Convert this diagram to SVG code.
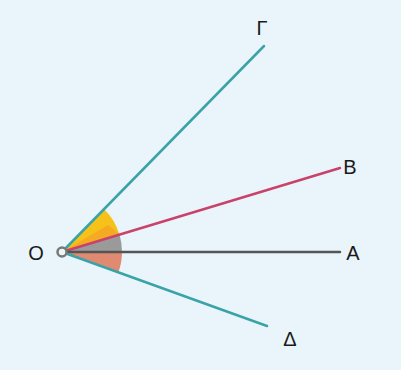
<svg xmlns="http://www.w3.org/2000/svg" width="401" height="370" viewBox="0 0 401 370">
<style>
.lbl{font-family:"Liberation Sans",Arial,sans-serif;font-size:20px;fill:#1a1a1a;text-anchor:middle}
.ray{stroke-width:2.5;stroke-linecap:round;fill:none}
</style>
<rect width="401" height="370" fill="#eaf5fb"/>
<g id="sectors">
<path d="M62,252 L119.5,234.6 A60,60 0 0 0 104,209 Z" fill="#f6c21a"/>
<path d="M62,252 L119.5,234.6 A60,60 0 0 0 108,225 Z" fill="#f39a2a" opacity="0.6"/>
<path d="M62,252 L122,252 A60,60 0 0 0 119.5,234.6 Z" fill="#9a9a9a"/>
<path d="M62,252 L122,252 A60,60 0 0 1 118.4,272.4 Z" fill="#e08a72"/>
</g>
<g id="connectors">
<line class="ray" x1="62" y1="252" x2="264" y2="46" stroke="#3aa3a8"/>
<line class="ray" x1="62" y1="252" x2="340" y2="168" stroke="#c9426b"/>
<line class="ray" x1="62" y1="252" x2="340" y2="252" stroke="#555"/>
<line class="ray" x1="62" y1="252" x2="267" y2="326" stroke="#3aa3a8"/>
</g>
<g id="O"><circle cx="62" cy="252" r="4.5" fill="#eef4f7" stroke="#777" stroke-width="2.5"/><text class="lbl" x="36" y="260">O</text></g>
<g id="A"><text class="lbl" x="353" y="260">A</text></g>
<g id="B"><text class="lbl" x="350" y="174">B</text></g>
<g id="G"><text class="lbl" x="262" y="35">Γ</text></g>
<g id="D"><text class="lbl" x="290" y="346">Δ</text></g>
</svg>
